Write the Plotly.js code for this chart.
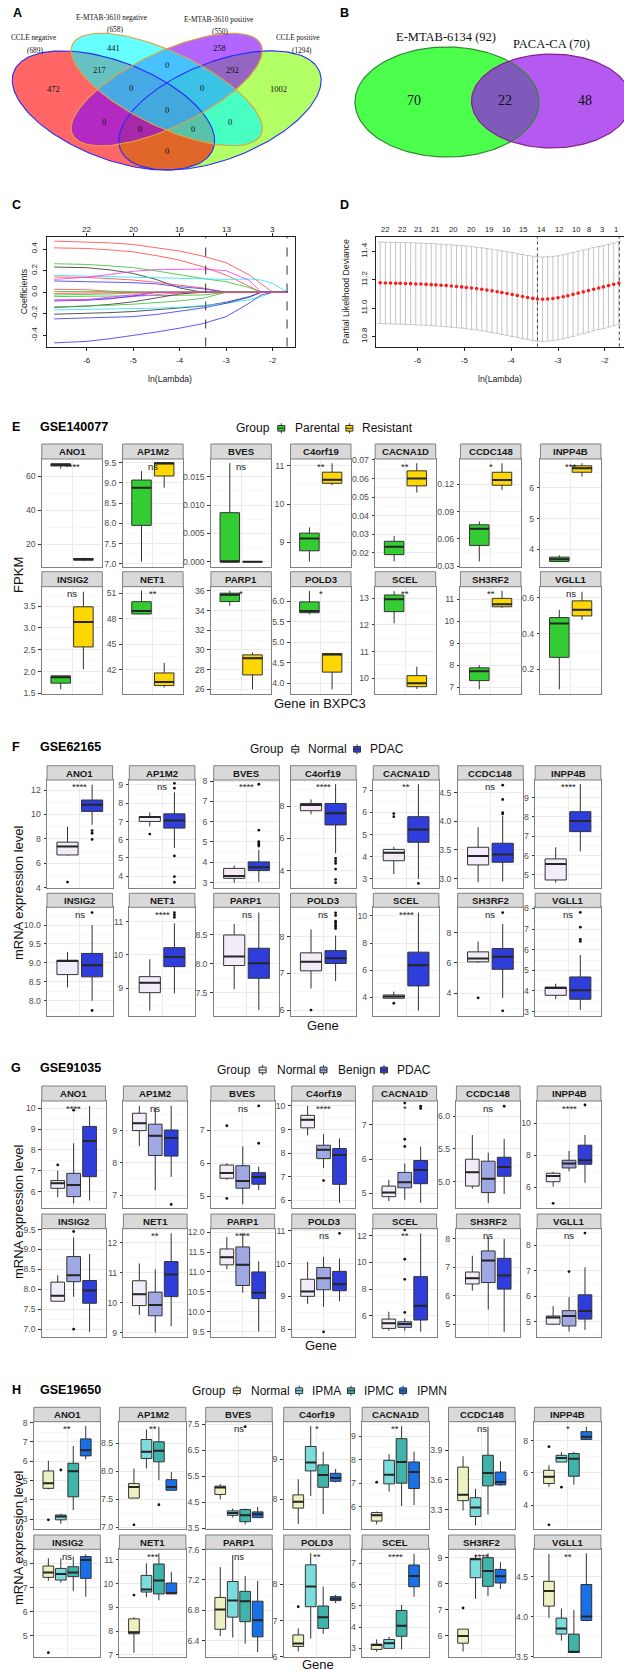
<!DOCTYPE html>
<html>
<head>
<meta charset="utf-8">
<script src="https://cdn.plot.ly/plotly-3.0.1.min.js"></script>
<style>
  html, body { margin: 0; padding: 0; background: #fff; }
  #fig { width: 624px; height: 1672px; }
</style>
</head>
<body>
<div id="fig"></div>
<script>
// ===================== DATA =====================
// A: four-set Venn (CCLE / E-MTAB-3610 negative & positive genes)
const A_sets  = ["CCLE negative", "E-MTAB-3610 negative", "E-MTAB-3610 positive", "CCLE positive"];
const A_sizes = [689, 658, 550, 1294];
const A_counts = [441, 258, 217, 0, 292, 472, 0, 0, 1002, 0, 0, 0, 0, 0, 0];

// B: two-set Venn
const B_sets  = ["E-MTAB-6134", "PACA-CA"];
const B_sizes = [92, 70];
const B_counts = [70, 22, 48];

// C: LASSO coefficient paths
const C_lambda = [-6.70, -6.0, -5.5, -5.0, -4.5, -4.0, -3.5, -3.0, -2.5, -2.25, -2.0, -1.68];
const C_coef = [
  [0.474, 0.468, 0.458, 0.443, 0.415, 0.382, 0.335, 0.274, 0.160, 0.083, 0, 0],
  [0.412, 0.406, 0.393, 0.375, 0.340, 0.298, 0.236, 0.160, 0.055, 0, 0, 0],
  [0.265, 0.258, 0.245, 0.228, 0.198, 0.160, 0.128, 0.098, 0.043, 0, 0, 0],
  [0.234, 0.228, 0.208, 0.175, 0.118, 0.040, 0, 0, 0, 0, 0, 0],
  [0.157, 0.151, 0.147, 0.142, 0.136, 0.129, 0.123, 0.120, 0.123, 0.114, 0.083, 0],
  [0.142, 0.138, 0.127, 0.114, 0.092, 0.068, 0.040, 0, 0, 0, 0, 0],
  [0.105, 0.098, 0.095, 0.089, 0.078, 0.052, 0.033, 0, 0, 0, 0, 0],
  [0.028, 0.024, 0.010, 0, 0, 0, 0, 0, 0, 0, 0, 0],
  [0.008, 0.006, 0.004, 0.002, 0, 0, 0, 0, 0, 0, 0, 0],
  [0.120, 0.140, 0.165, 0.195, 0.210, 0.215, 0.215, 0.200, 0.110, 0, 0, 0],
  [-0.025, -0.022, -0.015, -0.006, 0, 0, 0, 0, 0, 0, 0, 0],
  [-0.040, -0.038, -0.036, -0.033, -0.031, -0.029, -0.025, 0, 0, 0, 0, 0],
  [-0.070, -0.066, -0.055, -0.040, -0.022, -0.005, 0, 0, 0, 0, 0, 0],
  [-0.080, -0.074, -0.060, -0.035, 0, 0, 0, 0, 0, 0, 0, 0],
  [-0.140, -0.128, -0.112, -0.088, -0.052, -0.015, 0, 0, 0, 0, 0, 0],
  [-0.203, -0.198, -0.188, -0.178, -0.163, -0.148, -0.128, -0.092, -0.040, 0, 0, 0],
  [-0.163, -0.160, -0.157, -0.154, -0.147, -0.138, -0.124, -0.102, -0.068, -0.040, 0, 0],
  [-0.246, -0.240, -0.233, -0.225, -0.205, -0.178, -0.145, -0.102, -0.045, 0, 0, 0],
  [-0.468, -0.455, -0.430, -0.400, -0.368, -0.332, -0.290, -0.225, -0.100, -0.025, 0, 0],
  [-0.135, -0.128, -0.120, -0.110, -0.097, -0.080, -0.055, 0, 0, 0, 0, 0],
  [-0.075, -0.068, -0.045, -0.020, 0, 0, 0, 0, 0, 0, 0, 0],
  [-0.010, -0.006, 0, 0, 0, 0, 0, 0, 0, 0, 0, 0]
];
const C_topAt = [-6, -5, -4, -3, -2];
const C_topN  = [22, 20, 16, 13, 3];
const lambdaMin = -3.44;
const lambda1se = -1.69;

// D: cross-validated partial likelihood deviance
const D_lambda = [-6.80, -6.69, -6.58, -6.47, -6.37, -6.26, -6.15, -6.04, -5.93, -5.82,
                  -5.71, -5.61, -5.50, -5.39, -5.28, -5.17, -5.06, -4.96, -4.85, -4.74,
                  -4.63, -4.52, -4.41, -4.30, -4.20, -4.09, -3.98, -3.87, -3.76, -3.65,
                  -3.54, -3.44, -3.33, -3.22, -3.11, -3.00, -2.89, -2.79, -2.68, -2.57,
                  -2.46, -2.35, -2.24, -2.13, -2.03, -1.92, -1.81, -1.70];
const D_mean = [11.179, 11.178, 11.177, 11.176, 11.175, 11.174, 11.173, 11.171, 11.170, 11.168,
                11.166, 11.164, 11.162, 11.159, 11.156, 11.153, 11.150, 11.146, 11.142, 11.138,
                11.133, 11.128, 11.122, 11.116, 11.110, 11.103, 11.096, 11.089, 11.082, 11.075,
                11.069, 11.064, 11.063, 11.065, 11.068, 11.073, 11.080, 11.088, 11.097, 11.106,
                11.115, 11.124, 11.133, 11.142, 11.150, 11.159, 11.168, 11.178];
const D_se = [0.288, 0.288, 0.288, 0.288, 0.288, 0.289, 0.289, 0.289, 0.289, 0.289,
              0.290, 0.290, 0.290, 0.290, 0.291, 0.291, 0.291, 0.292, 0.292, 0.292,
              0.293, 0.293, 0.294, 0.294, 0.295, 0.295, 0.296, 0.296, 0.297, 0.297,
              0.298, 0.298, 0.298, 0.298, 0.298, 0.297, 0.297, 0.296, 0.296, 0.295,
              0.295, 0.294, 0.294, 0.293, 0.293, 0.292, 0.292, 0.292];
const D_topAt = [-6.70, -6.34, -6.00, -5.62, -5.24, -4.85, -4.47, -4.11, -3.75, -3.36, -2.98, -2.62, -2.34, -2.05, -1.77];
const D_topN  = [22, 22, 21, 21, 20, 20, 19, 16, 15, 14, 12, 10, 8, 3, 1];

// E-H: expression box plots, stats per gene = [lower whisker, Q1, median, Q3, upper whisker]
const genes = ["ANO1", "AP1M2", "BVES", "C4orf19", "CACNA1D", "CCDC148", "INPP4B",
               "INSIG2", "NET1", "PARP1", "POLD3", "SCEL", "SH3RF2", "VGLL1"];

// E: GSE140077 (FPKM, BXPC3)
const E_parental = [
  [64.3, 65.9, 66.6, 67.2, 67.6], [7.06, 7.95, 8.88, 9.07, 9.29], [0, 0, 0, 0.00865, 0.0174],
  [8.50, 8.78, 9.10, 9.24, 9.39], [0.0153, 0.0189, 0.0232, 0.0261, 0.029], [0.0351, 0.0527, 0.071, 0.0754, 0.0791],
  [3.59, 3.61, 3.68, 3.75, 3.81], [1.595, 1.733, 1.87, 1.90, 1.90], [48.52, 48.56, 48.91, 50.01, 51.3],
  [34.5, 34.92, 35.6, 35.77, 36.0], [5.68, 5.716, 5.76, 5.98, 6.245], [12.06, 12.5, 12.96, 13.124, 13.27],
  [6.91, 7.30, 7.73, 7.88, 8.0], [0.089, 0.267, 0.456, 0.489, 0.532]
];
const E_resistant = [
  [10.0, 10.5, 11.0, 11.5, 11.9], [8.88, 9.17, 9.48, 9.50, 9.52], [0, 0, 0, 0, 0],
  [10.49, 10.54, 10.63, 10.83, 11.06], [0.0524, 0.056, 0.060, 0.0641, 0.0682], [0.1138, 0.1189, 0.1248, 0.1332, 0.1430],
  [6.36, 6.50, 6.63, 6.71, 6.79], [2.055, 2.563, 3.138, 3.484, 3.83], [39.88, 40.11, 40.54, 41.6, 42.78],
  [26.0, 27.46, 29.16, 29.5, 29.74], [3.85, 4.27, 4.70, 4.72, 4.74], [9.6, 9.685, 9.81, 10.1, 10.435],
  [10.6, 10.65, 10.76, 11.03, 11.37], [0.476, 0.498, 0.532, 0.582, 0.633]
];
const E_sig = ["****", "ns", "ns", "**", "**", "*", "***", "ns", "**", "*", "*", "**", "**", "ns"];

// F: GSE62165
const F_normal = [
  [6.62, 6.68, 7.38, 7.73, 8.99], [6.73, 7.0, 7.24, 7.27, 7.49], [3.0, 3.21, 3.33, 3.70, 3.84],
  [7.49, 7.71, 8.06, 8.16, 8.41], [3.22, 3.82, 4.18, 4.33, 4.45], [2.936, 3.238, 3.395, 3.546, 3.895],
  [4.6, 4.74, 5.57, 5.83, 6.43], [8.35, 8.69, 9.05, 9.07, 9.29], [8.33, 8.87, 9.17, 9.35, 9.87],
  [7.56, 7.97, 8.127, 8.5, 8.69], [6.59, 7.07, 7.32, 7.56, 8.2], [3.88, 3.93, 4.05, 4.17, 4.42],
  [6.0, 6.07, 6.29, 6.73, 7.41], [3.6, 3.79, 4.15, 4.19, 4.35]
];
const F_normal_out = [[4.46], [6.31], [], [], [5.94, 5.80], [], [], [], [], [], [6.0], [3.56], [3.70], []];
const F_pdac = [
  [9.15, 10.25, 10.79, 11.18, 12.44], [5.55, 6.635, 7.05, 7.416, 8.6], [3.03, 3.59, 3.75, 4.02, 4.62],
  [5.07, 6.83, 7.55, 8.16, 9.36], [3.0, 4.65, 5.22, 5.80, 7.26], [2.948, 3.285, 3.42, 3.616, 4.10],
  [6.22, 7.24, 7.79, 8.27, 9.7], [8.0, 8.63, 8.94, 9.25, 10.0], [8.85, 9.65, 9.94, 10.22, 10.95],
  [7.20, 7.75, 8.01, 8.27, 8.89], [6.79, 7.27, 7.41, 7.62, 8.03], [3.02, 4.84, 6.37, 7.33, 10.25],
  [3.70, 5.58, 6.40, 6.95, 8.57], [3.08, 3.60, 4.03, 4.68, 5.74]
];
const F_pdac_out = [
  [8.68, 8.46, 7.95], [9.09, 8.82, 5.11, 3.98, 3.67], [4.80, 4.88, 4.95, 5.02, 5.58, 7.84],
  [4.76, 4.6, 4.45, 4.1, 3.46, 3.26], [2.80], [4.13, 4.15, 4.38, 4.63], [],
  [10.33, 7.74], [11.13, 11.2, 11.27], [], [8.22, 8.27, 8.32, 8.37, 8.42, 8.58, 8.65], [],
  [9.32, 2.84], [6.4, 6.5, 7.09, 7.8]
];
const F_sig = ["****", "ns", "****", "****", "**", "ns", "****", "ns", "****", "ns", "ns", "****", "ns", "ns"];

// G: GSE91035
const G_normal = [
  [5.73, 6.16, 6.40, 6.53, 7.0], [8.52, 9.0, 9.23, 9.54, 9.77], [5.49, 5.54, 5.70, 5.94, 6.0],
  [8.75, 9.07, 9.41, 9.6, 10.0], [4.77, 4.90, 5.02, 5.21, 5.39], [4.89, 4.93, 5.14, 5.34, 5.71],
  [6.04, 6.35, 6.71, 6.88, 6.97], [7.70, 7.70, 7.84, 8.18, 8.35], [9.59, 9.90, 10.28, 10.73, 11.31],
  [11.07, 11.18, 11.37, 11.58, 11.88], [8.77, 9.0, 9.15, 9.52, 10.05], [4.88, 5.05, 5.43, 5.75, 6.3],
  [6.19, 6.42, 6.62, 6.84, 7.41], [4.87, 4.90, 5.16, 5.22, 5.61]
];
const G_normal_out = [[7.28], [], [4.93, 7.13], [], [], [], [5.0], [], [], [], [], [], [], []];
const G_benign = [
  [5.44, 5.76, 6.32, 6.88, 8.32], [7.15, 8.23, 8.84, 9.2, 9.71], [4.75, 5.24, 5.46, 5.92, 6.5],
  [7.36, 7.76, 8.14, 8.33, 8.8], [4.81, 5.16, 5.32, 5.61, 5.87], [4.67, 4.83, 5.04, 5.31, 5.44],
  [7.0, 7.21, 7.48, 7.69, 8.27], [7.81, 8.19, 8.35, 8.82, 9.3], [9.0, 9.56, 9.92, 10.35, 11.11],
  [10.48, 10.66, 11.18, 11.63, 11.98], [8.68, 9.2, 9.55, 9.88, 10.2], [4.88, 5.13, 5.38, 5.55, 5.80],
  [5.52, 6.47, 7.24, 7.58, 8.08], [4.61, 4.83, 5.22, 5.43, 5.96]
];
const G_benign_out = [[9.91], [], [], [6.83], [6.37, 6.58, 7.64], [], [], [9.45, 7.0], [], [], [7.92],
                      [6.25, 8.73, 10.23, 12.43], [], [6.96]];
const G_pdac = [
  [5.57, 6.72, 8.43, 9.13, 10.11], [7.56, 8.21, 8.77, 9.02, 9.77], [5.18, 5.36, 5.58, 5.71, 5.89],
  [5.88, 6.67, 7.91, 8.19, 8.62], [4.72, 5.28, 5.68, 5.96, 6.37], [4.81, 5.08, 5.22, 5.37, 5.65],
  [6.28, 7.44, 7.69, 8.63, 9.27], [6.93, 7.65, 7.97, 8.22, 8.89], [9.21, 10.2, 10.94, 11.37, 12.32],
  [9.5, 10.33, 10.48, 11.0, 11.27], [8.85, 9.17, 9.37, 9.76, 10.15], [4.8, 5.68, 6.75, 8.93, 12.17],
  [4.74, 6.24, 6.72, 7.32, 8.0], [4.67, 5.10, 5.42, 6.05, 7.13]
];
const G_pdac_out = [[], [6.71], [6.6, 7.73], [], [7.48, 7.55], [6.15], [11.14], [], [], [], [10.92], [], [], [8.47]];
const G_sig = ["****", "ns", "ns", "****", "*", "ns", "****", "", "**", "****", "ns", "**", "ns", "ns"];

// H: GSE19650
const H_normal = [
  [4.55, 4.6, 4.86, 5.5, 6.03], [7.52, 7.52, 7.72, 7.78, 8.05], [4.61, 4.80, 5.07, 5.12, 5.20],
  [7.38, 7.78, 7.94, 8.11, 8.5], [5.25, 5.39, 5.64, 5.75, 5.79], [3.29, 3.39, 3.45, 3.73, 3.84],
  [5.13, 5.34, 5.75, 6.16, 6.48], [7.28, 7.42, 7.62, 7.89, 8.21], [7.09, 7.89, 7.96, 8.52, 8.59],
  [6.46, 6.55, 6.81, 6.97, 7.37], [6.14, 6.28, 6.36, 6.6, 6.78], [2.84, 2.95, 3.16, 3.2, 3.42],
  [5.4, 5.72, 6.0, 6.26, 6.26], [3.98, 4.13, 4.32, 4.44, 4.78]
];
const H_normal_out = [[2.97], [7.04], [], [], [7.04], [], [7.63, 2.77], [4.31], [9.52], [], [7.38], [], [7.07], []];
const H_ipma = [
  [2.76, 2.97, 3.14, 3.22, 3.28], [8.05, 8.23, 8.35, 8.57, 8.75], [3.91, 4.0, 4.09, 4.17, 4.26],
  [8.08, 8.71, 8.92, 9.32, 9.83], [6.64, 6.97, 7.36, 7.97, 8.23], [3.14, 3.23, 3.32, 3.42, 3.51],
  [6.67, 6.67, 6.92, 7.09, 7.3], [7.2, 7.31, 7.56, 7.79, 8.21], [9.44, 9.65, 9.76, 10.35, 10.86],
  [6.44, 6.71, 6.93, 7.18, 7.53], [6.5, 7.38, 7.94, 8.54, 8.86], [3.0, 3.0, 3.24, 3.42, 3.55],
  [7.42, 8.23, 8.94, 8.97, 9.08], [3.7, 3.78, 3.85, 3.98, 4.1]
];
const H_ipma_out = [[5.55], [], [], [], [], [], [5.11], [], [], [], [], [], [], []];
const H_ipmc = [
  [3.48, 4.16, 5.49, 5.9, 6.79], [7.84, 8.17, 8.37, 8.53, 8.8], [3.65, 3.75, 4.0, 4.22, 4.26],
  [7.63, 8.3, 8.61, 8.86, 9.19], [6.03, 7.0, 7.9, 8.89, 9.42], [3.25, 3.54, 3.67, 3.85, 4.14],
  [5.27, 5.79, 6.88, 7.2, 7.3], [6.86, 7.45, 7.62, 7.86, 8.28], [9.3, 9.57, 10.14, 10.83, 11.28],
  [6.36, 6.65, 6.92, 7.05, 7.25], [6.63, 6.78, 7.09, 7.4, 7.94], [2.95, 3.57, 4.06, 4.78, 5.05],
  [7.52, 7.9, 8.49, 9.0, 9.16], [3.55, 3.55, 3.56, 3.78, 4.08]
];
const H_ipmc_out = [[], [7.4], [7.41], [], [], [], [], [], [], [], [], [], [], []];
const H_ipmn = [
  [6.1, 6.28, 6.57, 7.16, 7.83], [7.65, 7.66, 7.72, 7.85, 7.99], [3.91, 3.91, 4.04, 4.13, 4.32],
  [8.42, 8.45, 8.53, 8.65, 8.76], [6.07, 6.77, 7.47, 7.9, 8.34], [3.54, 3.55, 3.58, 3.68, 3.79],
  [8.04, 8.08, 8.25, 8.56, 8.87], [6.62, 7.38, 8.14, 8.28, 8.38], [9.58, 9.58, 9.6, 10.03, 10.49],
  [6.25, 6.45, 6.67, 6.92, 7.19], [7.48, 7.55, 7.6, 7.66, 7.71], [5.43, 5.9, 6.4, 6.92, 7.45],
  [7.8, 8.03, 8.29, 8.55, 8.83], [3.94, 3.95, 4.0, 4.40, 4.79]
];
const H_sig = ["**", "**", "ns", "*", "**", "ns", "*", "ns", "***", "ns", "**", "****", "****", "**"];

// ===================== LAYOUT HELPERS =====================
const W = 624, H = 1672;
const SANS = '"Liberation Sans", Arial, sans-serif';
const SERIF = '"Liberation Serif", "Times New Roman", serif';
const px = x => x / W;
const py = y => 1 - y / H;

const traces = [];
const layout = {
  width: W, height: H,
  margin: { l: 0, r: 0, t: 0, b: 0 },
  paper_bgcolor: '#ffffff', plot_bgcolor: '#ffffff',
  showlegend: false, hovermode: false,
  font: { family: SANS, color: '#000' },
  shapes: [], annotations: []
};

function label(x, y, t, size, extra) {
  layout.annotations.push(Object.assign({
    xref: 'paper', yref: 'paper', x: px(x), y: py(y), text: t, showarrow: false,
    xanchor: 'center', yanchor: 'middle', font: { family: SANS, size: size, color: '#000' }
  }, extra || {}));
}

function ellipse(cx, cy, a, b, rotDeg) {
  const r = rotDeg * Math.PI / 180, xs = [], ys = [];
  for (let k = 0; k <= 160; k++) {
    const t = 2 * Math.PI * k / 160;
    const u = a * Math.cos(t), v = b * Math.sin(t);
    xs.push(cx + u * Math.cos(r) - v * Math.sin(r));
    ys.push(cy + u * Math.sin(r) + v * Math.cos(r));
  }
  return [xs, ys];
}

// ===================== A: four-set Venn =====================
layout.xaxis = { domain: [0, px(330)], range: [0.0304, 0.96], visible: false, fixedrange: true };
layout.yaxis = { domain: [py(190), 1], range: [0.0893, 0.9984], visible: false, fixedrange: true };
const A_shape = [
  { c: [0.35, 0.47], a: 0.35, b: 0.20, rot: -45 },
  { c: [0.50, 0.57], a: 0.35, b: 0.15, rot: -45 },
  { c: [0.50, 0.57], a: 0.35, b: 0.15, rot: 45 },
  { c: [0.65, 0.47], a: 0.35, b: 0.20, rot: 45 }
];
const A_fill = ['rgba(255,0,0,0.6)', 'rgba(0,255,255,0.6)', 'rgba(128,0,255,0.6)', 'rgba(127,255,0,0.6)'];
const A_edge = ['#2a2aff', '#e3a23c', '#e3a23c', '#2a2aff'];
const A_drawOrder = [3, 0, 2, 1];
A_drawOrder.forEach(i => {
  const [xs, ys] = ellipse(A_shape[i].c[0], A_shape[i].c[1], A_shape[i].a, A_shape[i].b, A_shape[i].rot);
  traces.push({ type: 'scatter', mode: 'lines', x: xs, y: ys, xaxis: 'x', yaxis: 'y', fill: 'toself',
                fillcolor: A_fill[i], line: { width: 0, color: 'rgba(0,0,0,0)' }, hoverinfo: 'skip' });
});
A_drawOrder.forEach(i => {
  const [xs, ys] = ellipse(A_shape[i].c[0], A_shape[i].c[1], A_shape[i].a, A_shape[i].b, A_shape[i].rot);
  traces.push({ type: 'scatter', mode: 'lines', x: xs, y: ys, xaxis: 'x', yaxis: 'y',
                line: { width: 1.1, color: A_edge[i] }, hoverinfo: 'skip' });
});
const A_countAt = [[0.350, 0.767], [0.650, 0.767], [0.311, 0.663], [0.5, 0.687], [0.686, 0.663],
                   [0.182, 0.571], [0.400, 0.576], [0.600, 0.576], [0.815, 0.571], [0.5, 0.472],
                   [0.322, 0.416], [0.678, 0.416], [0.425, 0.380], [0.575, 0.380], [0.5, 0.276]];
A_counts.forEach((n, i) => {
  layout.annotations.push({ xref: 'x', yref: 'y', x: A_countAt[i][0], y: A_countAt[i][1], text: String(n),
    showarrow: false, font: { family: SERIF, size: 8.5, color: '#111' } });
});
const A_nameAt = [[33.8, 37.7], [111.3, 17.3], [219, 19.3], [298.3, 37.7]];
const A_sizeAt = [[35, 50.7], [115, 29.3], [220, 31.7], [301.7, 50.7]];
A_sets.forEach((s, i) => {
  label(A_nameAt[i][0], A_nameAt[i][1], s, 7.3, { font: { family: SERIF, size: 7.3, color: '#111' } });
  label(A_sizeAt[i][0], A_sizeAt[i][1], '(' + A_sizes[i] + ')', 7.3, { font: { family: SERIF, size: 7.3, color: '#111' } });
});

// ===================== B: two-set Venn =====================
layout.xaxis2 = { domain: [px(330), 1], range: [330, 624], visible: false, fixedrange: true, anchor: 'y2' };
layout.yaxis2 = { domain: [py(190), 1], range: [190, 0], visible: false, fixedrange: true, anchor: 'x2' };
const B_shape = [{ c: [447, 102], rx: 92, ry: 55 }, { c: [551.5, 101], rx: 80, ry: 47 }];
const B_fill = ['rgba(0,255,0,0.7)', 'rgba(150,20,235,0.7)'];
const B_edge = ['#2f8a2f', '#8a1e8a'];
[0, 1].forEach(i => {
  const [xs, ys] = ellipse(B_shape[i].c[0], B_shape[i].c[1], B_shape[i].rx, B_shape[i].ry, 0);
  traces.push({ type: 'scatter', mode: 'lines', x: xs, y: ys, xaxis: 'x2', yaxis: 'y2', fill: 'toself',
                fillcolor: B_fill[i], line: { width: 0, color: 'rgba(0,0,0,0)' }, hoverinfo: 'skip' });
});
[0, 1].forEach(i => {
  const [xs, ys] = ellipse(B_shape[i].c[0], B_shape[i].c[1], B_shape[i].rx, B_shape[i].ry, 0);
  traces.push({ type: 'scatter', mode: 'lines', x: xs, y: ys, xaxis: 'x2', yaxis: 'y2',
                line: { width: 1.2, color: B_edge[i] }, hoverinfo: 'skip' });
});
const B_countAt = [[414, 100.7], [505, 100.7], [585, 100.7]];
B_counts.forEach((n, i) => {
  layout.annotations.push({ xref: 'x2', yref: 'y2', x: B_countAt[i][0], y: B_countAt[i][1], text: String(n),
    showarrow: false, font: { family: SERIF, size: 14, color: '#111' } });
});
const B_nameAt = [[445.7, 36.7], [551, 44.3]];
B_sets.forEach((s, i) => {
  label(B_nameAt[i][0], B_nameAt[i][1], s + ' (' + B_sizes[i] + ')', 12.5,
        { font: { family: SERIF, size: 12.5, color: '#111' } });
});

// panel letters
const bold = (t) => '<b>' + t + '</b>';
label(17, 13.3, bold('A'), 12.5);
label(344, 13.3, bold('B'), 12.5);
label(16, 205, bold('C'), 12.5);
label(344, 205, bold('D'), 12.5);

// ===================== C: coefficient paths =====================
const baseAxis = {
  showgrid: false, zeroline: false, showline: true, linecolor: '#222', linewidth: 1,
  ticks: 'outside', ticklen: 3, tickcolor: '#222', tickwidth: 1,
  tickfont: { family: SANS, size: 8, color: '#222' }, fixedrange: true
};
const C_xt = [-6, -5, -4, -3, -2];
layout.xaxis3 = Object.assign({}, baseAxis, {
  domain: [px(46.5), px(294.5)], range: [-6.865, -1.53], anchor: 'y3', mirror: 'ticks',
  tickvals: C_xt, ticktext: C_xt.map(String), ticklabelstandoff: 3
});
const C_yt = [-0.4, -0.2, 0, 0.2, 0.4];
layout.yaxis3 = Object.assign({}, baseAxis, {
  domain: [py(346.5), py(236.5)], range: [-0.502, 0.517], anchor: 'x3', mirror: true,
  tickvals: C_yt, ticktext: C_yt.map(v => v.toFixed(1)), tickangle: -90, ticklabelstandoff: 2
});
const pal = { black: '#3a3a3a', red: '#ff4d4d', green: '#3cc43c', blue: '#3d3dff', cyan: '#33e3ee', magenta: '#ef42ef' };
const C_colour = ['red', 'red', 'green', 'black', 'cyan', 'red', 'blue', 'red', 'green', 'magenta', 'green',
                  'green', 'magenta', 'blue', 'black', 'black', 'cyan', 'blue', 'blue', 'green', 'magenta', 'red'];
C_coef.forEach((path, i) => {
  traces.push({ type: 'scatter', mode: 'lines', x: C_lambda, y: path, xaxis: 'x3', yaxis: 'y3',
                line: { color: pal[C_colour[i]], width: 1 }, opacity: 0.85, hoverinfo: 'skip' });
});
[lambdaMin, lambda1se].forEach(v => {
  layout.shapes.push({ type: 'line', xref: 'x3', yref: 'y3 domain', x0: v, x1: v, y0: 0, y1: 1,
                       line: { color: '#333', width: 1, dash: 'dash' } });
});
C_topAt.forEach((v, i) => {
  layout.annotations.push({ xref: 'x3', yref: 'paper', x: v, y: py(223.3), text: String(C_topN[i]),
    showarrow: false, font: { family: SANS, size: 8, color: '#222' } });
});
label(24.7, 291.5, 'Coefficients', 8.7, { textangle: -90, font: { family: SANS, size: 8.7, color: '#222' } });
label(170.5, 379.3, 'ln(Lambda)', 8.7, { font: { family: SANS, size: 8.7, color: '#222' } });

// ===================== D: CV deviance =====================
const D_xt = [-6, -5, -4, -3, -2];
layout.xaxis4 = Object.assign({}, baseAxis, {
  domain: [px(376), 1], range: [-6.89, -1.59], anchor: 'y4', mirror: true,
  tickvals: D_xt, ticktext: D_xt.map(String), ticklabelstandoff: 3
});
const D_yt = [10.8, 11.0, 11.2, 11.4];
layout.yaxis4 = Object.assign({}, baseAxis, {
  domain: [py(346.5), py(236.5)], range: [10.729, 11.506], anchor: 'x4', mirror: true,
  tickvals: D_yt, ticktext: D_yt.map(v => v.toFixed(1)), tickangle: -90, ticklabelstandoff: 2
});
traces.push({
  type: 'scatter', mode: 'markers', x: D_lambda, y: D_mean, xaxis: 'x4', yaxis: 'y4',
  marker: { color: '#ff1a1a', size: 3.6 },
  error_y: { type: 'data', array: D_se, visible: true, color: '#c4c4c4', thickness: 1, width: 2.4 },
  hoverinfo: 'skip'
});
[lambdaMin, lambda1se].forEach(v => {
  layout.shapes.push({ type: 'line', xref: 'x4', yref: 'y4 domain', x0: v, x1: v, y0: 0, y1: 1,
                       line: { color: '#444', width: 1, dash: 'dot' } });
});
D_topAt.forEach((v, i) => {
  layout.annotations.push({ xref: 'x4', yref: 'paper', x: v, y: py(223.3), text: String(D_topN[i]),
    showarrow: false, font: { family: SANS, size: 7.6, color: '#222' } });
});
label(346.5, 291.5, 'Partial Likelihood Deviance', 8.7, { textangle: -90, font: { family: SANS, size: 8.7, color: '#222' } });
label(500, 379.3, 'ln(Lambda)', 8.7, { font: { family: SANS, size: 8.7, color: '#222' } });

// ===================== E-H: faceted box plots =====================
const BORDER = '#808080', GRID = '#EBEBEB', MINOR = '#F4F4F4';
const decimals = v => { const s = String(v); const i = s.indexOf('.'); return i < 0 ? 0 : s.length - i - 1; };

// y-axis settings per facet: [min, max, step, first tick offset]
const E_axes = [[6.67, 70.0, 20], [6.93, 9.59, 0.5], [-0.00088, 0.01812, 0.005], [8.365, 11.174, 1],
  [0.0124, 0.0705, 0.01], [0.0293, 0.1478, 0.03], [3.44, 6.93, 1], [1.477, 3.945, 0.5],
  [39.08, 51.78, 3], [25.49, 36.43, 2], [3.73, 6.35, 0.5], [9.4, 13.435, 1], [6.68, 11.56, 1], [0.061, 0.661, 0.2]];
const F_axes = [[3.95, 12.82, 2], [3.34, 9.27, 1], [2.72, 8.05, 1], [2.91, 9.61, 2], [2.58, 7.45, 1],
  [2.83, 4.72, 0.5], [4.31, 9.91, 1], [7.595, 10.47, 0.5], [8.17, 11.43, 1], [7.095, 8.98, 0.5],
  [5.84, 8.80, 1], [2.62, 10.64, 2], [2.5, 9.67, 2], [2.79, 8.05, 1]];
const G_axes = [[5.2, 10.35, 1], [6.59, 9.92, 1], [4.63, 7.88, 1], [5.65, 10.21, 1], [4.56, 7.70, 1],
  [4.59, 6.23, 0.5], [4.69, 11.39, 2], [6.81, 9.52, 0.5], [8.86, 12.47, 1], [9.37, 12.09, 0.5],
  [7.77, 11.06, 1], [4.43, 12.52, 2], [4.57, 8.36, 1], [4.41, 8.64, 1]];
const H_axes = [[2.48, 8.05, 1], [6.96, 8.89, 0.5], [3.46, 7.60, 1, 0.5], [7.25, 9.94, 1], [5.04, 9.61, 1],
  [3.10, 4.19, 0.3], [2.49, 9.18, 2], [4.12, 8.58, 1], [6.90, 11.45, 1], [6.18, 7.605, 0.4],
  [5.98, 8.97, 1], [2.58, 7.66, 1], [5.18, 9.32, 1], [3.49, 4.84, 0.5]];

const blocks = [
  { letter: 'E', gse: 'GSE140077', headY: 426.7, legY: 428.3,
    lefts: [41.8, 122.6, 210.9, 290.5, 375.2, 460.4, 540.4], pw: 60.5,
    rows: [[444, 459, 566.7], [571.7, 586.7, 694.3]],
    groups: [{ name: 'Parental', stats: E_parental, fill: '#33cc33' },
             { name: 'Resistant', stats: E_resistant, fill: '#ffd700' }],
    axes: E_axes, sig: E_sig,
    legX: { group: 234, items: [[281.3, 293.3], [349.4, 360]] },
    yTitle: ['FPKM', 17.9, 575], xTitle: ['Gene in BXPC3', 320, 703.3] },
  { letter: 'F', gse: 'GSE62165', headY: 747.3, legY: 749.3,
    lefts: [47, 129.3, 213.7, 290.5, 373.3, 457.6, 535.2], pw: 65.6,
    rows: [[765.7, 780, 888.3], [893.3, 907.3, 1016]],
    groups: [{ name: 'Normal', stats: F_normal, out: F_normal_out, fill: '#f2ebf8' },
             { name: 'PDAC', stats: F_pdac, out: F_pdac_out, fill: '#2f3edb' }],
    axes: F_axes, sig: F_sig,
    legX: { group: 247.5, items: [[295.3, 306.4], [357, 368]] },
    yTitle: ['mRNA expression level', 18, 893], xTitle: ['Gene', 323, 1025] },
  { letter: 'G', gse: 'GSE91035', headY: 1068.3, legY: 1070,
    lefts: [41.8, 123.4, 210.9, 291.7, 372.9, 456.4, 537.2], pw: 63.7,
    rows: [[1086, 1101, 1208.3], [1214, 1228.7, 1336.7]],
    groups: [{ name: 'Normal', stats: G_normal, out: G_normal_out, fill: '#f2ebf8' },
             { name: 'Benign', stats: G_benign, out: G_benign_out, fill: '#9fa8e2' },
             { name: 'PDAC', stats: G_pdac, out: G_pdac_out, fill: '#2f3edb' }],
    axes: G_axes, sig: G_sig,
    legX: { group: 214.9, items: [[262.6, 274.6], [323.5, 336.3], [384, 394.7]] },
    yTitle: ['mRNA expression level', 18, 1212], xTitle: ['Gene', 321.5, 1345] },
  { letter: 'H', gse: 'GSE19650', headY: 1390, legY: 1390.7,
    lefts: [33.8, 119.4, 205.7, 283.7, 362.1, 448.5, 534.4], pw: 66.5,
    rows: [[1407.3, 1421.7, 1529.3], [1535, 1549.3, 1657.3]],
    groups: [{ name: 'Normal', stats: H_normal, out: H_normal_out, fill: '#eef0c2' },
             { name: 'IPMA', stats: H_ipma, out: H_ipma_out, fill: '#7cdcdc' },
             { name: 'IPMC', stats: H_ipmc, out: H_ipmc_out, fill: '#40b3ab' },
             { name: 'IPMN', stats: H_ipmn, fill: '#1a70e6' }],
    axes: H_axes, sig: H_sig,
    legX: { group: 190.2, items: [[236.8, 248.7], [299.2, 310.4], [351, 362.1], [403.1, 415]] },
    yTitle: ['mRNA expression level', 18, 1538], xTitle: ['Gene', 317.5, 1664] }
];

function legendKey(cx, cy, fill) {
  const L = { color: '#333', width: 1 };
  layout.shapes.push({ type: 'line', xref: 'paper', yref: 'paper', x0: px(cx), x1: px(cx), y0: py(cy - 5), y1: py(cy + 5), line: L });
  layout.shapes.push({ type: 'rect', xref: 'paper', yref: 'paper', x0: px(cx - 3.5), x1: px(cx + 3.5),
                       y0: py(cy + 2.8), y1: py(cy - 2.8), fillcolor: fill, line: L });
  layout.shapes.push({ type: 'line', xref: 'paper', yref: 'paper', x0: px(cx - 3.5), x1: px(cx + 3.5), y0: py(cy), y1: py(cy), line: L });
}

let axN = 5;
blocks.forEach(b => {
  // header: panel letter, dataset, legend
  label(16, b.headY, bold(b.letter), 12.5);
  label(37.8, b.headY, bold(b.gse), 12.5, { xanchor: 'left' });
  label(b.legX.group, b.legY, 'Group', 12, { xanchor: 'left', font: { family: SANS, size: 12, color: '#111' } });
  b.groups.forEach((g, j) => {
    legendKey(b.legX.items[j][0], b.legY, g.fill);
    label(b.legX.items[j][1], b.legY, g.name, 12, { xanchor: 'left', font: { family: SANS, size: 12, color: '#111' } });
  });
  label(b.yTitle[1], b.yTitle[2], b.yTitle[0], 13, { textangle: -90, font: { family: SANS, size: 13, color: '#111' } });
  label(b.xTitle[1], b.xTitle[2], b.xTitle[0], 13, { font: { family: SANS, size: 13, color: '#111' } });

  const k = b.groups.length;
  const step = 0.9 / k;
  const bw = step * 0.86;
  genes.forEach((gene, i) => {
    const col = i % 7, row = Math.floor(i / 7);
    const [sTop, sBot, pBot] = b.rows[row];
    const x0 = b.lefts[col], x1 = x0 + b.pw;
    const n = axN++;
    const [lo, hi, dt, t0] = b.axes[i];
    const dec = Math.max(decimals(dt), decimals(t0 || 0));
    layout['xaxis' + n] = {
      domain: [px(x0), px(x1)], range: [0.4, 1.6], anchor: 'y' + n,
      tickvals: [1], showticklabels: false, ticks: '', showgrid: true, gridcolor: GRID, gridwidth: 1,
      zeroline: false, showline: true, mirror: true, linecolor: BORDER, linewidth: 1, fixedrange: true
    };
    layout['yaxis' + n] = {
      domain: [py(pBot), py(sBot)], range: [lo, hi], anchor: 'x' + n,
      tick0: t0 || 0, dtick: dt, tickformat: '.' + dec + 'f',
      ticks: 'outside', ticklen: 2.5, tickwidth: 1, tickcolor: '#333', ticklabelstandoff: 1,
      tickfont: { family: SANS, size: 8.7, color: '#4d4d4d' },
      showgrid: true, gridcolor: GRID, gridwidth: 1,
      minor: { tick0: t0 || 0, dtick: dt / 2, showgrid: true, gridcolor: MINOR, gridwidth: 0.6, ticks: '' },
      zeroline: false, showline: true, mirror: true, linecolor: BORDER, linewidth: 1, fixedrange: true
    };
    b.groups.forEach((g, j) => {
      const xc = 1 + (j - (k - 1) / 2) * step;
      const s = g.stats[i];
      traces.push({
        type: 'box', xaxis: 'x' + n, yaxis: 'y' + n, x: [xc],
        lowerfence: [s[0]], q1: [s[1]], median: [s[2]], q3: [s[3]], upperfence: [s[4]],
        width: bw, fillcolor: g.fill, line: { color: '#333', width: 1 },
        whiskerwidth: 0, boxpoints: false, hoverinfo: 'skip'
      });
      // heavier median bar
      traces.push({
        type: 'scatter', mode: 'lines', xaxis: 'x' + n, yaxis: 'y' + n,
        x: [xc - bw / 2, xc + bw / 2], y: [s[2], s[2]],
        line: { color: '#262626', width: 2 }, hoverinfo: 'skip'
      });
      if (g.out && g.out[i].length) {
        traces.push({
          type: 'scatter', mode: 'markers', xaxis: 'x' + n, yaxis: 'y' + n,
          x: g.out[i].map(() => xc), y: g.out[i],
          marker: { size: 2.8, color: '#111' }, hoverinfo: 'skip', cliponaxis: false
        });
      }
    });
    // facet strip
    layout.shapes.push({ type: 'rect', xref: 'paper', yref: 'paper', x0: px(x0), x1: px(x1),
                         y0: py(sBot), y1: py(sTop), fillcolor: '#d9d9d9', line: { color: BORDER, width: 1 } });
    label((x0 + x1) / 2, (sTop + sBot) / 2 + 0.3, bold(gene), 9.6, { font: { family: SANS, size: 9.6, color: '#1a1a1a' } });
    // significance mark
    if (b.sig[i]) {
      layout.annotations.push({ xref: 'x' + n, yref: 'paper', x: 1, y: py(sBot + 0.5), yanchor: 'top',
        text: b.sig[i], showarrow: false, borderpad: 0, font: { family: SANS, size: 9.5, color: '#222' } });
    }
  });
});

Plotly.newPlot('fig', traces, layout, { staticPlot: true, displayModeBar: false });
</script>
</body>
</html>
